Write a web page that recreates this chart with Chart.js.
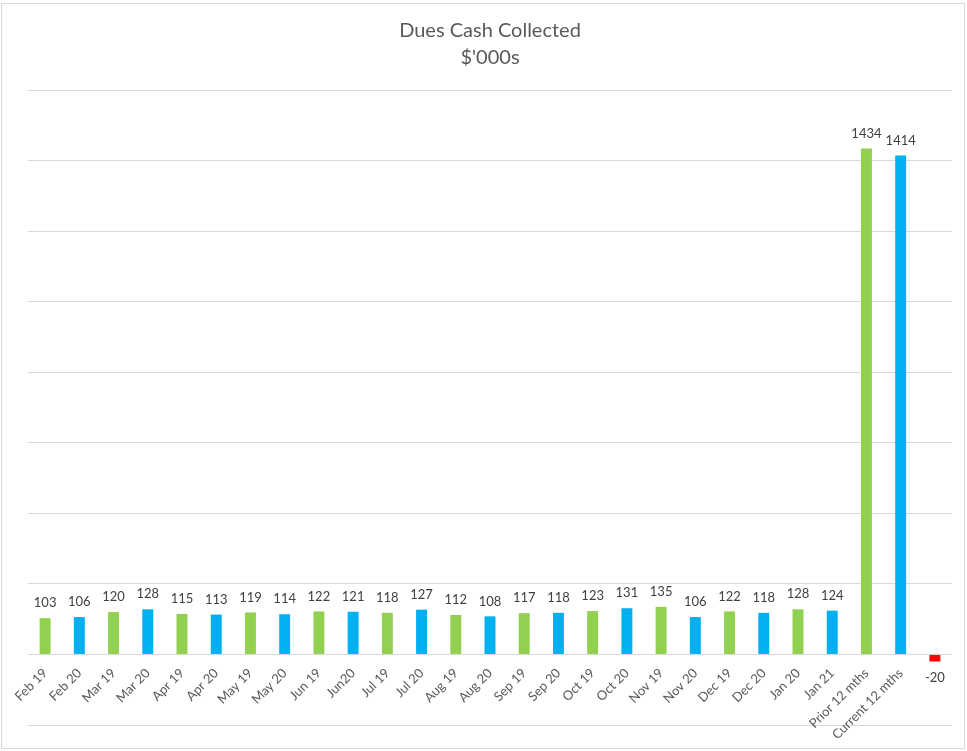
<!DOCTYPE html>
<html>
<head>
<meta charset="utf-8">
<script src="https://cdn.jsdelivr.net/npm/chart.js@4.4.1/dist/chart.umd.min.js"></script>
<style>
    body { margin: 0; background: #fff; }
    #wrap { width: 967px; height: 751px; position: relative; }
</style>
</head>
<body>
<div id="wrap"><canvas id="duesChart" width="967" height="751"></canvas></div>
<script>
// chart data
const months = ['Feb 19', 'Feb 20', 'Mar 19', 'Mar 20', 'Apr 19', 'Apr 20', 'May 19', 'May 20',
    'Jun 19', 'Jun20', 'Jul 19', 'Jul 20', 'Aug 19', 'Aug 20', 'Sep 19', 'Sep 20', 'Oct 19', 'Oct 20',
    'Nov 19', 'Nov 20', 'Dec 19', 'Dec 20', 'Jan 20', 'Jan 21', 'Prior 12 mths', 'Current 12 mths', ''];
const cashCollected = [103, 106, 120, 128, 115, 113, 119, 114, 122, 121, 118, 127, 112, 108, 117, 118,
    123, 131, 135, 106, 122, 118, 128, 124, 1434, 1414, -20];
const yTicks = [-200, 0, 200, 400, 600, 800, 1000, 1200, 1400, 1600];

const GREEN = '#92D050';
const BLUE = '#00B0F0';
const RED = '#FF0000';

var barColors = cashCollected.map(function (v, i) {
    if (i === cashCollected.length - 1) return RED;
    return i % 2 === 0 ? GREEN : BLUE;
});

// value labels above / below each bar
const valueLabels = {
    id: 'valueLabels',
    afterDatasetsDraw: function (chart) {
        const ctx = chart.ctx;
        const meta = chart.getDatasetMeta(0);
        ctx.save();
        ctx.font = '13px Lato';
        ctx.fillStyle = '#404040';
        ctx.textAlign = 'center';
        ctx.textBaseline = 'middle';
        meta.data.forEach(function (bar, i) {
            const v = cashCollected[i];
            const y = v >= 0 ? bar.y - 15 : bar.y + 16;
            ctx.fillText(String(v), bar.x, y);
        });
        ctx.restore();
    }
};

// thin frame round the picture
const frame = {
    id: 'frame',
    beforeDraw: function (chart) {
        const ctx = chart.ctx;
        ctx.save();
        ctx.strokeStyle = '#d9d9d9';
        ctx.lineWidth = 1;
        ctx.strokeRect(1.5, 3.5, 963, 745);
        ctx.restore();
    }
};

new Chart(document.getElementById('duesChart'), {
    type: 'bar',
    data: {
        labels: months,
        datasets: [{
            data: cashCollected,
            backgroundColor: barColors,
            categoryPercentage: 1,
            barPercentage: 0.32
        }]
    },
    plugins: [valueLabels, frame],
    options: {
        responsive: false,
        animation: false,
        layout: { padding: { left: 28, right: 15, top: 1, bottom: 26 } },
        plugins: {
            legend: { display: false },
            tooltip: { enabled: false },
            title: {
                display: true,
                text: ['Dues Cash Collected', "$'000s"],
                color: '#595959',
                font: { family: 'Lato', size: 20, weight: 'normal', lineHeight: 1.35 },
                padding: { top: 16, bottom: 19 }
            }
        },
        scales: {
            x: {
                position: { y: 0 },
                grid: { display: false },
                border: { display: false },
                ticks: {
                    color: '#595959',
                    font: { family: 'Lato', size: 13 },
                    minRotation: 45,
                    maxRotation: 45,
                    padding: 3,
                    autoSkip: false
                }
            },
            y: {
                min: -200,
                max: 1600,
                afterBuildTicks: function (axis) {
                    axis.ticks = yTicks.map(function (v) { return { value: v }; });
                },
                grid: { color: '#d9d9d9', drawTicks: false },
                border: { display: false },
                ticks: { display: false }
            }
        }
    }
});
</script>
</body>
</html>
